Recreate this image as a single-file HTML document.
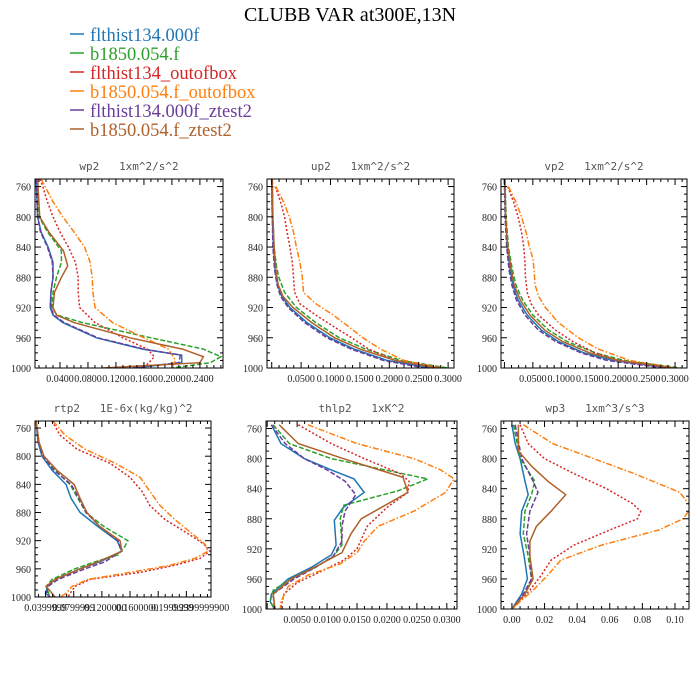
<!DOCTYPE html>
<html><head><meta charset="utf-8"><style>
body{margin:0;background:#fff;}
svg{display:block;font-family:"Liberation Serif",serif;}
.pt{font-family:"DejaVu Sans Mono","Liberation Mono",monospace;font-size:11px;fill:#555;white-space:pre;}
.tk{font-size:10px;fill:#222;}
.lg{font-size:18.5px;}
</style></head><body>
<svg id="chart" width="700" height="700" viewBox="0 0 700 700">
<text x="350" y="21" text-anchor="middle" font-size="20" fill="#000">CLUBB VAR at300E,13N</text>
<g>
<g><line x1="70" y1="34" x2="84" y2="34" stroke="#1f77b4" stroke-width="1.5"/><text class="lg" x="90" y="41" fill="#1f77b4">flthist134.000f</text></g>
<g><line x1="70" y1="53" x2="84" y2="53" stroke="#2ca02c" stroke-width="1.5"/><text class="lg" x="90" y="60" fill="#2ca02c">b1850.054.f</text></g>
<g><line x1="70" y1="72" x2="84" y2="72" stroke="#d62728" stroke-width="1.5"/><text class="lg" x="90" y="79" fill="#d62728">flthist134_outofbox</text></g>
<g><line x1="70" y1="91" x2="84" y2="91" stroke="#ff7f0e" stroke-width="1.5"/><text class="lg" x="90" y="98" fill="#ff7f0e">b1850.054.f_outofbox</text></g>
<g><line x1="70" y1="110" x2="84" y2="110" stroke="#6a3d9a" stroke-width="1.5"/><text class="lg" x="90" y="117" fill="#6a3d9a">flthist134.000f_ztest2</text></g>
<g><line x1="70" y1="129" x2="84" y2="129" stroke="#b0602a" stroke-width="1.5"/><text class="lg" x="90" y="136" fill="#b0602a">b1850.054.f_ztest2</text></g>
</g>
</svg>
<script>
const pTicks = [760, 800, 840, 880, 920, 960, 1000];
const seriesNames = ["flthist134.000f","b1850.054.f","flthist134_outofbox","b1850.054.f_outofbox","flthist134.000f_ztest2","b1850.054.f_ztest2"];
const colors = ["#1f77b4","#2ca02c","#d62728","#ff7f0e","#6a3d9a","#b0602a"];
const dashes = ["", "5,2", "2,2", "6,2,1.5,2", "5,2", ""];

const wp2Blue = [[750,0.006],[800,0.008],[820,0.013],[840,0.023],[860,0.030],[880,0.030],[900,0.027],[920,0.026],[930,0.030],[940,0.044],[960,0.092],[975,0.158],[983,0.214],[993,0.214],[1000,0.144]];
const wp2Green = [[750,0.007],[800,0.010],[820,0.022],[845,0.042],[860,0.042],[880,0.035],[900,0.030],[920,0.028],[930,0.036],[940,0.072],[960,0.170],[975,0.245],[985,0.270],[993,0.255],[1000,0.200]];
const wp2Red = [[750,0.012],[780,0.022],[800,0.030],[820,0.040],[840,0.052],[860,0.062],[880,0.066],[900,0.066],[920,0.068],[940,0.090],[960,0.130],[975,0.165],[985,0.175],[995,0.165],[1000,0.155]];
const wp2Orange = [[750,0.013],[780,0.030],[800,0.044],[820,0.060],[840,0.075],[860,0.083],[880,0.086],[900,0.087],[920,0.090],[940,0.115],[960,0.160],[975,0.195],[990,0.205],[1000,0.200]];
const wp2Purple = [[750,0.006],[800,0.008],[820,0.012],[840,0.022],[860,0.029],[880,0.030],[900,0.027],[920,0.027],[930,0.031],[940,0.046],[960,0.094],[975,0.160],[983,0.212],[993,0.210],[1000,0.140]];
const wp2Brown = [[750,0.008],[800,0.011],[820,0.024],[845,0.045],[865,0.051],[880,0.042],[900,0.032],[920,0.030],[930,0.035],[940,0.060],[960,0.140],[975,0.215],[985,0.245],[993,0.240],[1000,0.100]];
const up2Blue = [[750,0.000],[800,0.001],[840,0.003],[870,0.006],[890,0.010],[905,0.017],[920,0.031],[940,0.060],[960,0.099],[975,0.140],[990,0.196],[1000,0.270]];
const up2Green = [[750,0.001],[800,0.002],[840,0.004],[865,0.008],[880,0.012],[900,0.022],[920,0.042],[940,0.075],[960,0.115],[975,0.160],[990,0.220],[1000,0.300]];
const up2Red = [[760,0.006],[780,0.015],[800,0.022],[820,0.026],[840,0.031],[860,0.035],[880,0.037],[900,0.039],[915,0.048],[930,0.075],[945,0.105],[960,0.136],[975,0.165],[990,0.210],[1000,0.280]];
const up2Orange = [[760,0.007],[780,0.020],[800,0.030],[820,0.037],[840,0.042],[860,0.048],[880,0.052],[900,0.054],[915,0.075],[930,0.105],[945,0.130],[960,0.155],[975,0.185],[990,0.225],[1000,0.290]];
const up2Purple = [[750,0.000],[800,0.001],[840,0.002],[870,0.005],[890,0.009],[905,0.015],[920,0.028],[940,0.056],[960,0.094],[975,0.135],[990,0.190],[1000,0.260]];
const up2Brown = [[750,0.001],[800,0.002],[840,0.004],[870,0.007],[890,0.011],[905,0.019],[920,0.036],[940,0.068],[960,0.107],[975,0.150],[990,0.210],[1000,0.285]];
const vp2Blue = [[750,0.000],[800,0.002],[840,0.005],[870,0.010],[890,0.015],[910,0.024],[930,0.040],[950,0.065],[965,0.095],[980,0.140],[990,0.190],[1000,0.290]];
const vp2Green = [[750,0.001],[800,0.003],[840,0.007],[870,0.014],[890,0.020],[910,0.032],[930,0.050],[950,0.078],[965,0.110],[980,0.160],[990,0.210],[1000,0.310]];
const vp2Red = [[760,0.006],[780,0.016],[800,0.024],[820,0.030],[840,0.034],[860,0.036],[880,0.037],[900,0.040],[915,0.047],[930,0.060],[950,0.090],[965,0.120],[980,0.160],[990,0.200],[1000,0.290]];
const vp2Orange = [[760,0.007],[780,0.020],[800,0.030],[820,0.038],[840,0.044],[855,0.050],[870,0.052],[890,0.054],[905,0.060],[920,0.072],[940,0.095],[960,0.130],[975,0.165],[990,0.220],[1000,0.300]];
const vp2Purple = [[750,0.000],[800,0.001],[840,0.004],[870,0.008],[890,0.013],[910,0.021],[930,0.036],[950,0.060],[965,0.090],[980,0.135],[990,0.180],[1000,0.280]];
const vp2Brown = [[750,0.001],[800,0.002],[840,0.006],[870,0.012],[890,0.017],[910,0.028],[930,0.045],[950,0.071],[965,0.102],[980,0.150],[990,0.200],[1000,0.300]];
const rtp2Blue = [[750,0.006],[780,0.017],[800,0.040],[820,0.097],[840,0.176],[860,0.205],[880,0.256],[900,0.358],[920,0.466],[935,0.494],[950,0.369],[960,0.256],[975,0.114],[985,0.068],[995,0.063],[1000,0.085]];
const rtp2Green = [[750,0.006],[780,0.023],[800,0.045],[820,0.114],[840,0.199],[860,0.244],[880,0.290],[900,0.392],[920,0.528],[930,0.506],[940,0.472],[950,0.341],[960,0.227],[975,0.097],[985,0.063],[1000,0.085]];
const rtp2Red = [[750,0.097],[770,0.142],[790,0.239],[810,0.426],[830,0.540],[850,0.608],[870,0.653],[890,0.739],[910,0.869],[925,0.960],[935,0.994],[945,0.938],[955,0.795],[965,0.597],[975,0.313],[985,0.227],[995,0.199],[1000,0.188]];
const rtp2Orange = [[750,0.102],[770,0.170],[790,0.284],[810,0.455],[830,0.597],[850,0.653],[870,0.710],[890,0.795],[910,0.892],[925,0.966],[935,0.983],[945,0.909],[955,0.767],[965,0.540],[975,0.301],[985,0.210],[995,0.176],[1000,0.142]];
const rtp2Purple = [[750,0.006],[780,0.020],[800,0.045],[820,0.108],[840,0.205],[860,0.250],[880,0.290],[900,0.369],[920,0.472],[935,0.489],[950,0.398],[960,0.284],[975,0.131],[985,0.074],[995,0.068],[1000,0.085]];
const rtp2Brown = [[750,0.006],[780,0.023],[800,0.051],[820,0.125],[840,0.222],[860,0.256],[880,0.295],[900,0.369],[920,0.483],[935,0.494],[950,0.358],[960,0.256],[975,0.114],[985,0.063],[1000,0.114]];
const thlp2Blue = [[755,0.0007],[780,0.0023],[800,0.0062],[815,0.0107],[827,0.0145],[845,0.0162],[865,0.0127],[882,0.0112],[915,0.0115],[928,0.0107],[945,0.0073],[960,0.0035],[980,0.0007],[990,0.0005],[1000,0.0012]];
const thlp2Green = [[755,0.0010],[780,0.0037],[800,0.0107],[812,0.0178],[827,0.0268],[843,0.0218],[862,0.0128],[880,0.0122],[915,0.0125],[930,0.0110],[945,0.0080],[960,0.0040],[975,0.0010],[990,0.0005],[1000,0.0012]];
const thlp2Red = [[755,0.0052],[780,0.0107],[800,0.0162],[820,0.0222],[830,0.0237],[845,0.0235],[865,0.0200],[890,0.0167],[920,0.0150],[935,0.0128],[950,0.0090],[965,0.0050],[980,0.0028],[1000,0.0022]];
const thlp2Orange = [[755,0.0068],[780,0.0150],[800,0.0245],[815,0.0290],[827,0.0312],[845,0.0298],[870,0.0245],[890,0.0185],[910,0.0162],[925,0.0150],[940,0.0122],[955,0.0068],[970,0.0035],[990,0.0023],[1000,0.0022]];
const thlp2Purple = [[755,0.0007],[780,0.0030],[800,0.0062],[815,0.0100],[830,0.0130],[848,0.0148],[870,0.0130],[890,0.0125],[910,0.0125],[930,0.0110],[945,0.0080],[960,0.0045],[980,0.0010],[1000,0.0012]];
const thlp2Brown = [[755,0.0020],[780,0.0052],[800,0.0127],[825,0.0227],[845,0.0235],[880,0.0157],[900,0.0140],[925,0.0125],[945,0.0078],[960,0.0040],[980,0.0010],[1000,0.0013]];
const wp3Blue = [[755,0.000],[780,0.002],[800,0.005],[830,0.008],[848,0.010],[870,0.006],[900,0.005],[930,0.0075],[960,0.0095],[980,0.006],[1000,0.000]];
const wp3Green = [[755,0.001],[800,0.005],[830,0.014],[848,0.012],[870,0.008],[900,0.007],[930,0.010],[960,0.012],[980,0.008],[1000,0.000]];
const wp3Red = [[755,0.005],[780,0.010],[800,0.020],[820,0.038],[840,0.058],[860,0.074],[870,0.079],[880,0.077],[895,0.060],[915,0.038],[935,0.024],[955,0.018],[975,0.011],[1000,0.000]];
const wp3Orange = [[755,0.007],[780,0.025],[800,0.050],[820,0.075],[845,0.103],[865,0.110],[880,0.105],[895,0.090],[915,0.055],[935,0.030],[955,0.022],[975,0.013],[1000,0.000]];
const wp3Purple = [[755,0.002],[800,0.006],[830,0.013],[845,0.016],[870,0.011],[900,0.009],[930,0.011],[960,0.012],[980,0.007],[1000,0.000]];
const wp3Brown = [[755,0.004],[790,0.004],[810,0.012],[830,0.022],[848,0.033],[870,0.024],[890,0.015],[910,0.011],[930,0.011],[960,0.013],[980,0.008],[1000,0.000]];

const wp2Ticks = [0.04,0.08,0.12,0.16,0.20,0.24];
const wp2Labels = ["0.0400","0.0800","0.1200","0.1600","0.2000","0.2400"];
const up2Ticks = [0.05,0.10,0.15,0.20,0.25,0.30];
const up2Labels = ["0.0500","0.1000","0.1500","0.2000","0.2500","0.3000"];
const rtp2Ticks = [0.06,0.22,0.40,0.58,0.78,0.94];
const rtp2Labels = ["0.0399999","0.0799999","0.1200000","0.1600000","0.1999999","0.2399999900"];
const thlp2Ticks = [0.005,0.010,0.015,0.020,0.025,0.030];
const thlp2Labels = ["0.0050","0.0100","0.0150","0.0200","0.0250","0.0300"];
const wp3Ticks = [0.00,0.02,0.04,0.06,0.08,0.10];
const wp3Labels = ["0.00","0.02","0.04","0.06","0.08","0.10"];

const panels = [
 {name:"wp2", title:"wp2   1xm^2/s^2", box:[35,179,223,368], x:[0.0043,0.273], series:[wp2Blue,wp2Green,wp2Red,wp2Orange,wp2Purple,wp2Brown], ticks:wp2Ticks, labels:wp2Labels},
 {name:"up2", title:"up2   1xm^2/s^2", box:[267,179,454,368], x:[-0.008,0.310], series:[up2Blue,up2Green,up2Red,up2Orange,up2Purple,up2Brown], ticks:up2Ticks, labels:up2Labels},
 {name:"vp2", title:"vp2   1xm^2/s^2", box:[501,179,687,368], x:[-0.006,0.321], series:[vp2Blue,vp2Green,vp2Red,vp2Orange,vp2Purple,vp2Brown], ticks:up2Ticks, labels:up2Labels},
 {name:"rtp2", title:"rtp2   1E-6x(kg/kg)^2", box:[35,421,211,597], x:[0,1], series:[rtp2Blue,rtp2Green,rtp2Red,rtp2Orange,rtp2Purple,rtp2Brown], ticks:rtp2Ticks, labels:rtp2Labels},
 {name:"thlp2", title:"thlp2   1xK^2", box:[266,421,457,609], x:[-0.0002,0.0317], series:[thlp2Blue,thlp2Green,thlp2Red,thlp2Orange,thlp2Purple,thlp2Brown], ticks:thlp2Ticks, labels:thlp2Labels},
 {name:"wp3", title:"wp3   1xm^3/s^3", box:[501,421,689,609], x:[-0.0067,0.1086], series:[wp3Blue,wp3Green,wp3Red,wp3Orange,wp3Purple,wp3Brown], ticks:wp3Ticks, labels:wp3Labels}
];
const NS="http://www.w3.org/2000/svg";
const svg=document.getElementById("chart");
function mk(tag,attrs,parent){const e=document.createElementNS(NS,tag);for(const k in attrs)e.setAttribute(k,attrs[k]);parent.appendChild(e);return e;}
panels.forEach(P=>{
 const [x0,y0,x1,y1]=P.box;
 const xs=v=>x0+(v-P.x[0])/(P.x[1]-P.x[0])*(x1-x0);
 const ys=p=>y0+(p-750)/250*(y1-y0);
 const g=mk("g",{},svg);
 
 
 const t=mk("text",{x:(x0+x1)/2,y:y0-9,"text-anchor":"middle",class:"pt"},g);
 t.textContent=P.title;
 
 
 const clip=mk("clipPath",{id:"c"+P.name},g);
 mk("rect",{x:x0,y:y0,width:x1-x0,height:y1-y0},clip);
 const lines=mk("g",{"clip-path":"url(#c"+P.name+")"},g);
 P.series.forEach((s,i)=>{
  const d=s.map((pt,j)=>(j?"L":"M")+xs(pt[1]).toFixed(1)+","+ys(pt[0]).toFixed(1)).join("");
  const a={d:d,fill:"none",stroke:colors[i],"stroke-width":1.5};
  if(dashes[i])a["stroke-dasharray"]=dashes[i];
  const path=mk("path",a,lines);
  
  
 });
 const frame=mk("rect",{x:x0,y:y0,width:x1-x0,height:y1-y0,fill:"none",stroke:"#000","stroke-width":1},g);
 
 
 for(let p=750;p<=1000;p+=10){
  const y=ys(p), maj=(p-760)%40===0;
  const L=maj?6:3;
  mk("line",{x1:x0,y1:y,x2:x0+L,y2:y,stroke:"#000","stroke-width":1},g);
  mk("line",{x1:x1,y1:y,x2:x1-L,y2:y,stroke:"#000","stroke-width":1},g);
 }
 pTicks.forEach(p=>{
  const lt=mk("text",{x:x0-4,y:ys(p)+4,"text-anchor":"end",class:"tk"},g);
  lt.textContent=p;
  
  
 });
 const step=(P.ticks[1]-P.ticks[0])/4;
 for(let v=P.ticks[0]-8*step;v<=P.x[1];v+=step){
  if(v<P.x[0])continue;
  const x=xs(v);
  const r=((v-P.ticks[0])/step)%4;
  const maj=Math.abs(r)<0.01||Math.abs(Math.abs(r)-4)<0.01;
  const L=maj?6:3;
  mk("line",{x1:x,y1:y1,x2:x,y2:y1-L,stroke:"#000","stroke-width":1},g);
  mk("line",{x1:x,y1:y0,x2:x,y2:y0+L,stroke:"#000","stroke-width":1},g);
 }
 P.ticks.forEach((v,i)=>{
  const lt=mk("text",{x:xs(v),y:y1+14,"text-anchor":"middle",class:"tk"},g);
  lt.textContent=P.labels[i];
  
  
 });
});
</script>
</body></html>
